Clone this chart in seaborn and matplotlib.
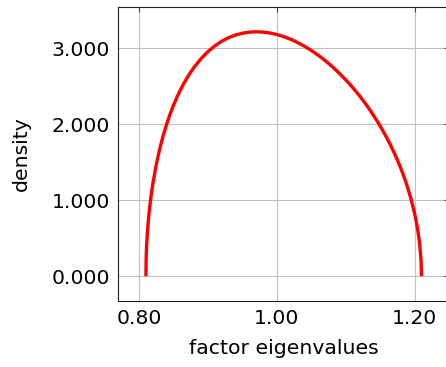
import matplotlib
matplotlib.use("Agg")
import matplotlib.pyplot as plt
import seaborn as sns
import pandas as pd
from matplotlib.ticker import FormatStrFormatter

# values
eigenvalues = [0.8100, 0.8105, 0.811, 0.812, 0.813, 0.815, 0.817, 0.820, 0.825, 0.830,
               0.835, 0.840, 0.845, 0.850, 0.855, 0.860, 0.865, 0.870, 0.875, 0.880,
               0.890, 0.900, 0.910, 0.920, 0.930, 0.940, 0.950, 0.960, 0.970, 0.980,
               0.990, 1.000, 1.010, 1.020, 1.030, 1.040, 1.050, 1.060, 1.070, 1.080,
               1.090, 1.100, 1.105, 1.110, 1.115, 1.120, 1.125, 1.130, 1.135, 1.140,
               1.145, 1.150, 1.155, 1.160, 1.165, 1.170, 1.175, 1.180, 1.185, 1.190,
               1.195, 1.200, 1.203, 1.205, 1.207, 1.209, 1.2095, 1.2100]
density = [0.000, 0.278, 0.392, 0.553, 0.676, 0.868, 1.022, 1.212, 1.466, 1.672,
           1.846, 1.996, 2.129, 2.247, 2.353, 2.448, 2.534, 2.613, 2.684, 2.749,
           2.861, 2.954, 3.029, 3.090, 3.137, 3.172, 3.196, 3.210, 3.215, 3.211,
           3.199, 3.179, 3.152, 3.117, 3.075, 3.026, 2.970, 2.908, 2.838, 2.761,
           2.676, 2.584, 2.535, 2.484, 2.430, 2.374, 2.315, 2.254, 2.189, 2.122,
           2.051, 1.977, 1.898, 1.815, 1.727, 1.632, 1.531, 1.421, 1.300, 1.166,
           1.012, 0.828, 0.694, 0.587, 0.455, 0.263, 0.186, 0.000]
x_ticks = [0.80, 1.00, 1.20]
y_ticks = [0.0, 1.0, 2.0, 3.0]

df = pd.DataFrame({"x": eigenvalues, "y": density})

sns.set_style("white")
plt.rcParams["font.family"] = ["DejaVu Sans"]
plt.rcParams["text.color"] = "black"
plt.rcParams["axes.labelcolor"] = "black"
plt.rcParams["xtick.color"] = "black"
plt.rcParams["ytick.color"] = "black"

fig = plt.figure(figsize=(4.46, 3.67), dpi=100)
ax = fig.add_axes([0.2653, 0.1807, 0.7414, 0.7993])

sns.lineplot(data=df, x="x", y="y", color="#ff0000", linewidth=2.4, ax=ax,
             sort=False, solid_capstyle="butt", solid_joinstyle="round")

ax.set_xlim(0.77, 1.25)
ax.set_ylim(-0.3215, 3.5365)
ax.set_xticks(x_ticks)
ax.set_yticks(y_ticks)
ax.xaxis.set_major_formatter(FormatStrFormatter("%.2f"))
ax.yaxis.set_major_formatter(FormatStrFormatter("%.3f"))
ax.grid(True, color="#c0c0c0", linewidth=0.8)
ax.set_axisbelow(True)
ax.tick_params(axis="both", direction="in", length=3.5, width=0.8, color="#404040",
               labelcolor="black", labelsize=14.7, top=True, right=True, pad=6)
for s in ax.spines.values():
    s.set_color("#202020")
    s.set_linewidth(0.8)
    s.set_visible(True)
ax.set_xlabel("factor eigenvalues", fontsize=14.7, labelpad=8, color="black")
ax.set_ylabel("density", fontsize=14.7, labelpad=15, color="black")

fig.savefig("out.png", dpi=100)
